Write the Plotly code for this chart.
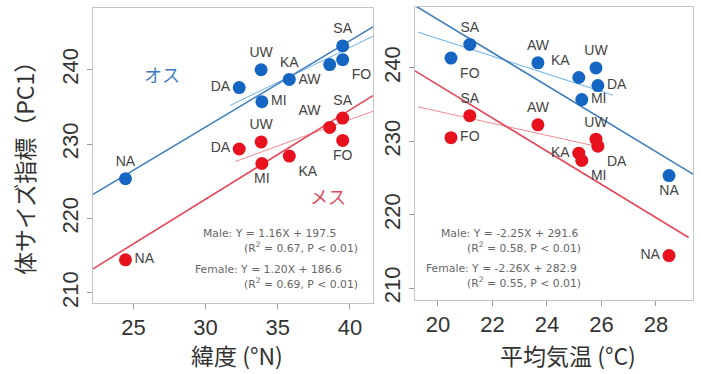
import numpy as np
import plotly.graph_objects as go

# ---------------- data ----------------
sites = ["NA", "DA", "UW", "MI", "KA", "AW", "SA", "FO"]
latitude = [24.45, 32.33, 33.85, 33.9, 35.8, 38.6, 39.5, 39.5]        # °N
mean_temp = [28.48, 25.87, 25.8, 25.28, 25.17, 23.67, 21.17, 20.48]    # °C
male_pc1 = [225.35, 237.6, 240.0, 235.7, 238.7, 240.7, 243.2, 241.35]
female_pc1 = [214.45, 229.35, 230.3, 227.4, 228.4, 232.25, 233.5, 230.5]

# regression fits: (slope, intercept)
lat_fit_male = (1.16, 197.5)
lat_fit_female = (1.20, 186.6)
temp_fit_male = (-2.25, 291.6)
temp_fit_female = (-2.26, 282.9)
# secondary (thin) fits: (slope, intercept, x_from, x_to)
lat_sub_male = (0.94, 205.4, 31.7, 41.6)
lat_sub_female = (0.71, 204.9, 32.05, 41.6)
temp_sub_male = (-1.20, 268.0, 19.27, 26.42)
temp_sub_female = (-0.82, 250.5, 19.27, 25.94)

lat_ticks = [25, 30, 35, 40]
temp_ticks = [20, 22, 24, 26, 28]
pc1_ticks = [210, 220, 230, 240]

eq_lat = ["Male: Y = 1.16X + 197.5", "(R<sup>2</sup> = 0.67, P < 0.01)",
          "Female: Y = 1.20X + 186.6", "(R<sup>2</sup> = 0.69, P < 0.01)"]
eq_temp = ["Male: Y = -2.25X + 291.6", "(R<sup>2</sup> = 0.58, P < 0.01)",
           "Female: Y = -2.26X + 282.9", "(R<sup>2</sup> = 0.55, P < 0.01)"]

# ---------------- style ----------------
W, H = 701, 374
BLUE_PT = "#1466C2"
RED_PT = "#E8121E"
BLUE_LN = "#3F7EBE"
BLUE_LN2 = "#69B0EA"
RED_LN = "#E6475A"
RED_LN2 = "#EE8A94"
LBL = "#444444"
FONT = "Liberation Sans, Arial, sans-serif"
JFONT = "Noto Sans CJK JP, sans-serif"

lat_range = [22.2, 41.6]
temp_range = [19.16, 29.36]
yl_range = [208.65, 248.3]
yr_range = [208.4, 248.3]

fig = go.Figure()


def px(x):
    return x / W


def py(y):
    return 1 - y / H


def add_line(fit, xr, color, width, xa, ya):
    xs = np.array(xr, dtype=float)
    ys = fit[0] * xs + fit[1]
    fig.add_trace(go.Scatter(x=xs, y=ys, mode="lines", xaxis=xa, yaxis=ya,
                             line=dict(color=color, width=width),
                             hoverinfo="skip", showlegend=False))


def add_sub(fit, color, xa, ya):
    add_line(fit[:2], fit[2:], color, 1, xa, ya)


# left panel lines
add_sub(lat_sub_male, BLUE_LN2, "x", "y")
add_sub(lat_sub_female, RED_LN2, "x", "y")
add_line(lat_fit_male, lat_range, BLUE_LN, 1.6, "x", "y")
add_line(lat_fit_female, lat_range, RED_LN, 1.6, "x", "y")
# right panel lines
add_sub(temp_sub_male, BLUE_LN2, "x2", "y2")
add_sub(temp_sub_female, RED_LN2, "x2", "y2")
add_line(temp_fit_male, temp_range, BLUE_LN, 1.6, "x2", "y2")
add_line(temp_fit_female, [temp_range[0], 29.2], RED_LN, 1.6, "x2", "y2")

pos_lat_m = ["top center", "middle left", "top center", "middle right",
             "top center", "bottom left", "top center", "bottom right"]
pos_lat_f = ["middle right", "middle left", "top center", "bottom center",
             "bottom right", "top left", "top center", "bottom center"]
pos_tmp_m = ["bottom center", "middle right", "top center", "middle right",
             "top left", "top center", "top center", "bottom right"]
pos_tmp_f = ["middle left", "bottom right", "top center", "bottom right",
             "middle left", "top center", "top center", "middle right"]


def add_pts(xv, yv, color, pos, xa, ya):
    fig.add_trace(go.Scatter(x=xv, y=yv, mode="markers+text", text=sites,
                             textposition=pos, xaxis=xa, yaxis=ya,
                             cliponaxis=False,
                             textfont=dict(family=FONT, size=14, color=LBL),
                             marker=dict(color=color, size=13, line=dict(width=0)),
                             showlegend=False))


add_pts(latitude, male_pc1, BLUE_PT, pos_lat_m, "x", "y")
add_pts(latitude, female_pc1, RED_PT, pos_lat_f, "x", "y")
add_pts(mean_temp, male_pc1, BLUE_PT, pos_tmp_m, "x2", "y2")
add_pts(mean_temp, female_pc1, RED_PT, pos_tmp_f, "x2", "y2")

axis_common = dict(showgrid=False, zeroline=False, showline=True, mirror=True,
                   automargin=False,
                   linecolor="#C4C4C4", linewidth=1, ticks="outside", ticklen=5,
                   tickcolor="#999999", tickfont=dict(family=FONT, size=22, color="#333333"))

fig.update_layout(
    width=W, height=H,
    margin=dict(l=0, r=0, t=0, b=0),
    paper_bgcolor="white", plot_bgcolor="white",
    xaxis=dict(domain=[px(93), px(373)], range=lat_range, tickvals=lat_ticks,
               anchor="y", **axis_common),
    yaxis=dict(domain=[py(303), py(8)], range=yl_range, tickvals=pc1_ticks,
               tickangle=-90, anchor="x", **axis_common),
    xaxis2=dict(domain=[px(415), px(693)], range=temp_range, tickvals=temp_ticks,
                anchor="y2", **axis_common),
    yaxis2=dict(domain=[py(300), py(7)], range=yr_range, tickvals=pc1_ticks,
                tickangle=-90, anchor="x2", **axis_common),
)

ann = []
# axis titles
ann.append(dict(x=px(24), y=py(163), text="体サイズ指標（PC1）", textangle=-90,
                font=dict(family=JFONT, size=23, color="#333333")))
ann.append(dict(x=px(237), y=py(355), text="緯度 (°N)",
                font=dict(family=JFONT, size=23, color="#333333")))
ann.append(dict(x=px(568), y=py(355), text="平均気温 (°C)",
                font=dict(family=JFONT, size=23, color="#333333")))
# sex labels
ann.append(dict(x=px(162), y=py(74), text="オス",
                font=dict(family=JFONT, size=18, color="#3B7CC0")))
ann.append(dict(x=px(328), y=py(196), text="メス",
                font=dict(family=JFONT, size=18, color="#E2485E")))
# equations
eq_font = dict(family="DejaVu Sans, sans-serif", size=10.8, color="#666666")
for txt, x0, y0 in zip(eq_lat, [201, 242, 193, 242], [233, 247, 269, 283]):
    ann.append(dict(x=px(x0), y=py(y0), text=txt, xanchor="left", font=eq_font))
for txt, x0, y0 in zip(eq_temp, [439, 465, 424, 465], [233, 247, 268, 282]):
    ann.append(dict(x=px(x0), y=py(y0), text=txt, xanchor="left", font=eq_font))

for a in ann:
    a.setdefault("xanchor", "center")
    a.update(xref="paper", yref="paper", showarrow=False, yanchor="middle")
fig.update_layout(annotations=ann)

fig.write_html("out.html",
               config={"displayModeBar": False},
               post_script="document.body.style.margin='0px';"
                           "document.body.style.overflow='hidden';")
